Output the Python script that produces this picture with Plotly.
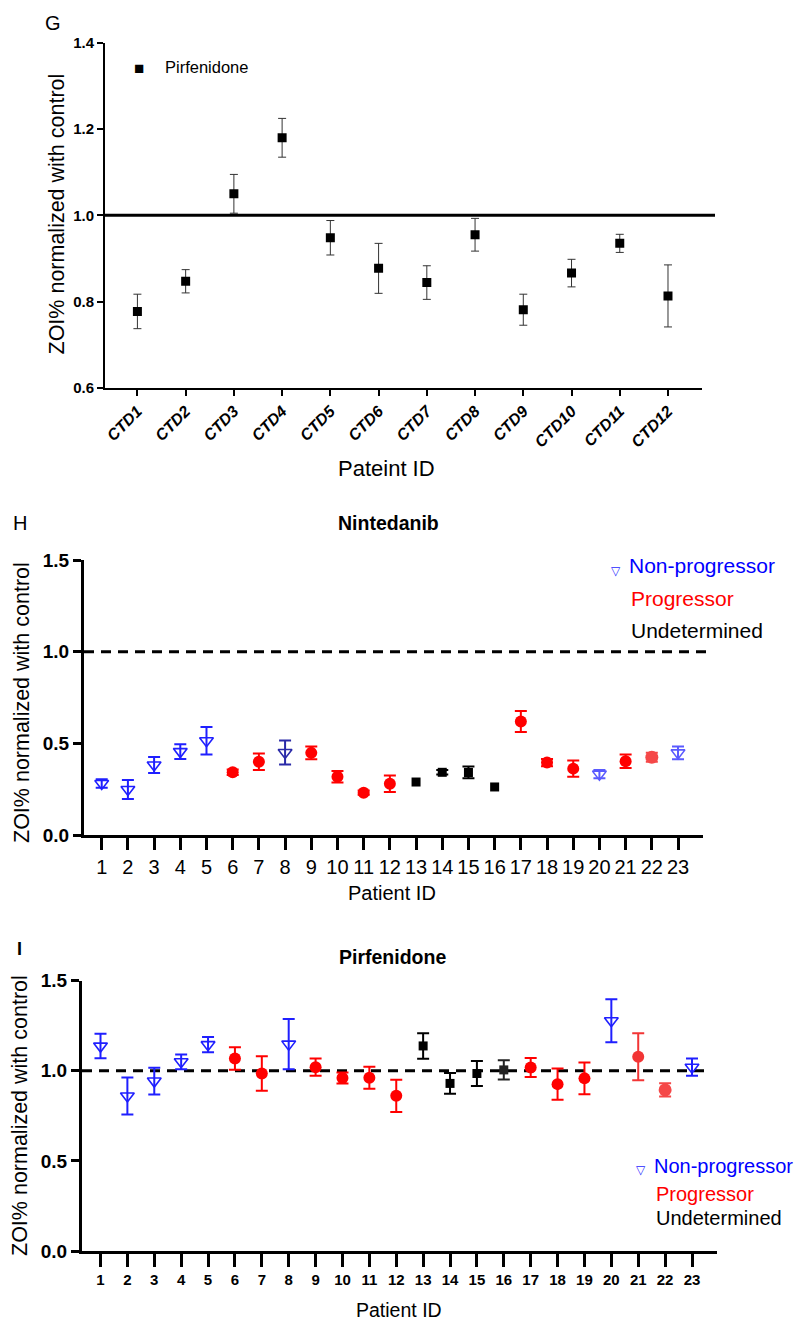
import plotly.graph_objects as go

W, H = 798, 1324
def px(x): return x / W
def py(y): return 1 - y / H

FONT = "Liberation Sans, Arial, Helvetica, sans-serif"

# ---------------- data ----------------
g_ids = ["CTD1", "CTD2", "CTD3", "CTD4", "CTD5", "CTD6", "CTD7", "CTD8", "CTD9", "CTD10", "CTD11", "CTD12"]
g_mean = [0.777, 0.847, 1.050, 1.180, 0.948, 0.877, 0.844, 0.955, 0.781, 0.866, 0.935, 0.813]
g_err = [0.040, 0.027, 0.045, 0.045, 0.040, 0.058, 0.039, 0.038, 0.036, 0.032, 0.021, 0.072]

patients = list(range(1, 24))
status = ["N", "N", "N", "N", "N", "P", "P", "N", "P", "P", "P", "P",
          "U", "U", "U", "U", "P", "P", "P", "N", "P", "P", "N"]

h_mean = [0.281, 0.248, 0.382, 0.455, 0.514, 0.342, 0.400, 0.450, 0.448, 0.318, 0.231, 0.280,
          0.289, 0.342, 0.341, 0.262, 0.619, 0.395, 0.362, 0.332, 0.402, 0.424, 0.448]
h_err = [0.023, 0.052, 0.044, 0.040, 0.075, 0.015, 0.045, 0.065, 0.035, 0.031, 0.012, 0.045,
         0.0, 0.012, 0.032, 0.0, 0.057, 0.020, 0.044, 0.023, 0.037, 0.025, 0.035]
h_colors = ["#1f1fff", "#1f1fff", "#1f1fff", "#1f1fff", "#1f1fff", "#ff0000", "#ff0000", "#2a2aa8",
            "#ff0000", "#ff0000", "#ff0000", "#ff0000", "#000000", "#000000", "#000000", "#000000",
            "#ff0000", "#ff0000", "#ff0000", "#5a5aff", "#ff0000", "#f54848", "#5a5aff"]

i_mean = [1.137, 0.860, 0.943, 1.050, 1.145, 1.068, 0.985, 1.148, 1.020, 0.960, 0.961, 0.861,
          1.138, 0.930, 0.985, 1.005, 1.018, 0.926, 0.958, 1.278, 1.078, 0.894, 1.020]
i_err = [0.068, 0.103, 0.074, 0.041, 0.042, 0.062, 0.096, 0.139, 0.048, 0.030, 0.061, 0.089,
         0.071, 0.058, 0.070, 0.053, 0.053, 0.087, 0.088, 0.119, 0.130, 0.037, 0.048]
i_colors = ["#1f1fff", "#1f1fff", "#1f1fff", "#1f1fff", "#1f1fff", "#ff0000", "#ff0000", "#1f1fff",
            "#ff0000", "#ff0000", "#ff0000", "#ff0000", "#000000", "#000000", "#000000", "#222222",
            "#ff0000", "#ff0000", "#ff0000", "#1f1fff", "#f23535", "#f54848", "#1f1fff"]

symbols = {"N": "triangle-down-open", "P": "circle", "U": "square"}
sizes = {"N": 12, "P": 12, "U": 9}

fig = go.Figure()

# ---------------- panel G ----------------
fig.add_trace(go.Scatter(
    x=list(range(1, len(g_ids) + 1)), y=g_mean, mode="markers",
    marker=dict(symbol="square", size=9, color="black"),
    error_y=dict(type="data", array=g_err, color="#333333", thickness=1, width=4),
    xaxis="x", yaxis="y", showlegend=False))

# ---------------- panels H, I ----------------
for k in range(len(patients)):
    s = status[k]
    for mean, err, cols, xa, ya in ((h_mean, h_err, h_colors, "x2", "y2"),
                                    (i_mean, i_err, i_colors, "x3", "y3")):
        c = cols[k]
        mk = dict(symbol=symbols[s], size=sizes[s] + (1 if (s == "P" and c == "#f54848") else 0))
        if s == "N":
            mk.update(color=c, line=dict(color=c, width=1.6))
        else:
            mk.update(color=c, line=dict(width=0))
        fig.add_trace(go.Scatter(
            x=[patients[k]], y=[mean[k]], mode="markers", marker=mk,
            error_y=dict(type="data", array=[err[k]], color=c, thickness=2, width=6,
                         visible=err[k] > 0),
            xaxis=xa, yaxis=ya, showlegend=False))

axis_common = dict(showgrid=False, zeroline=False, showline=True, linecolor="black",
                   ticks="outside", tickcolor="black", fixedrange=True, automargin=False)

fig.update_layout(
    width=W, height=H, margin=dict(l=0, r=0, t=0, b=0, pad=0, autoexpand=False),
    paper_bgcolor="white", plot_bgcolor="white",
    font=dict(family=FONT, color="black"),
    xaxis=dict(axis_common, domain=[px(105), px(702)], range=[0.328, 12.705],
               tickvals=list(range(1, len(g_ids) + 1)),
               ticktext=["<b><i>%s</i></b>" % t for t in g_ids], tickangle=-45,
               linewidth=2, ticklen=6, tickwidth=2, tickfont=dict(size=16), anchor="y"),
    yaxis=dict(axis_common, domain=[py(387.7), py(43)], range=[0.6, 1.4],
               tickvals=[0.6, 0.8, 1.0, 1.2, 1.4],
               ticktext=["<b>0.6</b>", "<b>0.8</b>", "<b>1.0</b>", "<b>1.2</b>", "<b>1.4</b>"],
               linewidth=2, ticklen=6, tickwidth=2, tickfont=dict(size=15), anchor="x"),
    xaxis2=dict(axis_common, domain=[px(84), px(703)], range=[0.324, 23.954],
                tickvals=patients, ticktext=[str(p) for p in patients],
                linewidth=3, ticklen=12, tickwidth=3, tickfont=dict(size=20), anchor="y2"),
    yaxis2=dict(axis_common, domain=[py(835), py(560)], range=[0, 1.5],
                tickvals=[0, 0.5, 1.0, 1.5],
                ticktext=["<b>0.0</b>", "<b>0.5</b>", "<b>1.0</b>", "<b>1.5</b>"],
                linewidth=3, ticklen=8, tickwidth=3, tickfont=dict(size=19), anchor="x2"),
    xaxis3=dict(axis_common, domain=[px(82), px(717)], range=[0.312, 23.93],
                tickvals=patients, ticktext=["<b>%d</b>" % p for p in patients],
                linewidth=3, ticklen=13, tickwidth=2.5, tickfont=dict(size=15), anchor="y3"),
    yaxis3=dict(axis_common, domain=[py(1251), py(980.7)], range=[0, 1.5],
                tickvals=[0, 0.5, 1.0, 1.5],
                ticktext=["<b>0.0</b>", "<b>0.5</b>", "<b>1.0</b>", "<b>1.5</b>"],
                linewidth=3, ticklen=8, tickwidth=3, tickfont=dict(size=19), anchor="x3"),
)

# reference lines
fig.add_shape(type="line", xref="paper", yref="y", x0=px(105), x1=px(715), y0=1.0, y1=1.0,
              line=dict(color="black", width=3))
fig.add_shape(type="line", xref="paper", yref="y2", x0=px(84), x1=px(708), y0=1.0, y1=1.0,
              line=dict(color="black", width=3, dash="10px,7px"))
fig.add_shape(type="line", xref="paper", yref="y3", x0=px(82), x1=px(706), y0=1.0, y1=1.0,
              line=dict(color="black", width=3, dash="10px,7px"), layer="below")

def ann(text, x, y, size, color="black", angle=0, xanchor="center"):
    fig.add_annotation(text=text, x=px(x), y=py(y), xref="paper", yref="paper",
                       showarrow=False, textangle=angle, xanchor=xanchor, yanchor="middle",
                       font=dict(family=FONT, size=size, color=color))

# panel letters
ann("G", 53, 23, 20)
ann("H", 19.5, 523, 20)
ann("<b>I</b>", 19, 949, 18)

# titles
ann("<b>Nintedanib</b>", 388, 523, 19.5)
ann("<b>Pirfenidone</b>", 392, 957, 19.5)

# axis titles
ann("ZOI% normalized with control", 57, 214.5, 21.5, angle=-90)
ann("Pateint ID", 386, 468, 22)
ann("ZOI% normalized with control", 22, 703, 21.5, angle=-90)
ann("Patient ID", 392, 893, 20)
ann("ZOI% normalized with control", 20, 1116, 21.5, angle=-90)
ann("Patient ID", 399, 1310, 19.5)

# legends
ann("■", 139, 68, 17)
ann("Pirfenidone", 163, 67, 16.5, xanchor="left")

ann("▽", 616, 571, 12, color="#1f1fff")
ann("Non-progressor", 627, 566, 21, color="#0000ff", xanchor="left")
ann("Progressor", 629, 598, 21, color="#ff0000", xanchor="left")
ann("Undetermined", 629, 630, 21, color="black", xanchor="left")

ann("▽", 641, 1170, 12, color="#1f1fff")
ann("Non-progressor", 652, 1166, 20, color="#0000ff", xanchor="left")
ann("Progressor", 654, 1194, 20, color="#ff0000", xanchor="left")
ann("Undetermined", 654, 1218, 20, color="black", xanchor="left")

fig.write_html("out.html")
